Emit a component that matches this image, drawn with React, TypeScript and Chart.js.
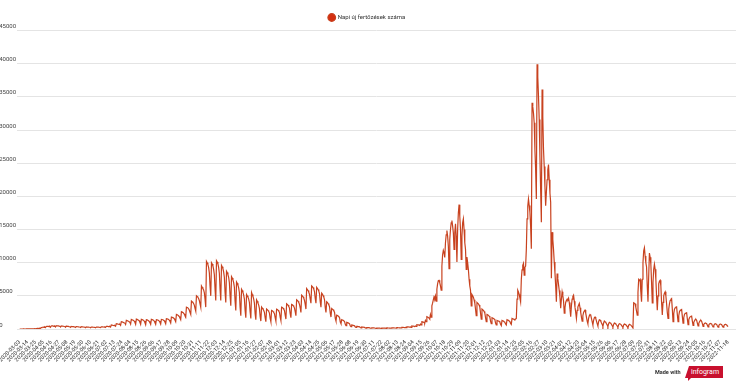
import React, { useEffect, useRef } from "react";
import { Chart, registerables } from "chart.js";

Chart.register(...registerables);

const SERIES_LABEL = "Napi új fertőzések száma";

const TICK_LABELS = [
  "2020-03-03", "2020-03-14", "2020-03-25", "2020-04-05", "2020-04-16", "2020-04-27", "2020-05-08", "2020-05-19",
  "2020-05-30", "2020-06-10", "2020-06-21", "2020-07-02", "2020-07-13", "2020-07-24", "2020-08-04", "2020-08-15",
  "2020-08-26", "2020-09-06", "2020-09-17", "2020-09-28", "2020-10-09", "2020-10-20", "2020-10-31", "2020-11-11",
  "2020-11-22", "2020-12-03", "2020-12-14", "2020-12-25", "2021-01-05", "2021-01-16", "2021-01-27", "2021-02-07",
  "2021-02-18", "2021-03-01", "2021-03-12", "2021-03-23", "2021-04-03", "2021-04-14", "2021-04-25", "2021-05-06",
  "2021-05-17", "2021-05-28", "2021-06-08", "2021-06-19", "2021-06-30", "2021-07-11", "2021-07-22", "2021-08-02",
  "2021-08-13", "2021-08-24", "2021-09-04", "2021-09-15", "2021-09-26", "2021-10-07", "2021-10-18", "2021-10-29",
  "2021-11-09", "2021-11-20", "2021-12-01", "2021-12-12", "2021-12-23", "2022-01-03", "2022-01-14", "2022-01-25",
  "2022-02-05", "2022-02-16", "2022-02-27", "2022-03-10", "2022-03-21", "2022-04-01", "2022-04-12", "2022-04-23",
  "2022-05-04", "2022-05-15", "2022-05-26", "2022-06-06", "2022-06-17", "2022-06-28", "2022-07-09", "2022-07-20",
  "2022-07-31", "2022-08-11", "2022-08-22", "2022-09-02", "2022-09-13", "2022-09-24", "2022-10-05", "2022-10-16",
  "2022-10-27", "2022-11-07", "2022-11-18",
];

const Y_TICKS = [0, 5000, 10000, 15000, 20000, 25000, 30000, 35000, 40000, 45000];

// one value per day, starting 2020-03-03
const DAILY_CASES = [
  0, 0, 2, 2, 3, 5, 4,
  3, 2, 6, 9, 11, 13, 10,
  12, 8, 18, 25, 30, 34, 28,
  35, 25, 60, 70, 80, 90, 75,
  120, 90, 200, 230, 260, 280, 240,
  300, 220, 380, 400, 410, 390, 350,
  380, 260, 450, 470, 460, 440, 400,
  420, 300, 500, 490, 480, 460, 430,
  400, 290, 460, 450, 440, 420, 390,
  380, 270, 430, 420, 410, 390, 360,
  340, 250, 390, 380, 370, 350, 330,
  310, 230, 360, 350, 340, 320, 300,
  290, 220, 340, 330, 320, 300, 280,
  270, 200, 310, 300, 290, 280, 260,
  250, 180, 290, 280, 270, 260, 250,
  240, 180, 290, 290, 280, 270, 260,
  260, 200, 330, 320, 310, 300, 290,
  300, 240, 410, 400, 390, 370, 350,
  380, 300, 600, 580, 560, 530, 500,
  520, 420, 800, 780, 760, 720, 680,
  700, 560, 1100, 1070, 1030, 980, 920,
  900, 700, 1300, 1260, 1220, 1160, 1100,
  1000, 750, 1450, 1400, 1350, 1280, 1200,
  1000, 700, 1500, 1450, 1400, 1330, 1250,
  1000, 700, 1450, 1420, 1380, 1300, 1200,
  950, 650, 1400, 1370, 1330, 1250, 1150,
  950, 700, 1450, 1420, 1380, 1300, 1200,
  950, 700, 1400, 1380, 1350, 1280, 1200,
  1000, 750, 1450, 1430, 1400, 1330, 1250,
  1050, 800, 1550, 1530, 1500, 1430, 1350,
  1150, 900, 1800, 1760, 1720, 1650, 1550,
  1350, 1100, 2200, 2150, 2100, 2000, 1880,
  1650, 1400, 2600, 2550, 2500, 2400, 2250,
  2000, 1800, 3300, 3250, 3200, 3050, 2850,
  2500, 2200, 4200, 4100, 4000, 3850, 3600,
  3100, 2700, 5000, 4900, 4800, 4600, 4300,
  3800, 3300, 6500, 6300, 6100, 5900, 5500,
  4500, 3300, 10200, 10000, 9700, 9300, 8500,
  6500, 5000, 10000, 9800, 9500, 9000, 8200,
  6000, 4300, 10300, 10100, 9800, 9300, 8400,
  6000, 4300, 9600, 9400, 9100, 8600, 7800,
  5500, 4000, 8700, 8500, 8200, 7800, 7000,
  5000, 3500, 7900, 7700, 7400, 7000, 6300,
  4200, 2800, 7100, 6900, 6600, 6200, 5500,
  3300, 2000, 6000, 5800, 5500, 5100, 4500,
  2800, 1700, 5200, 5000, 4800, 4500, 4000,
  2600, 1600, 5500, 5200, 4900, 4500, 3900,
  2300, 1400, 4400, 4200, 3900, 3600, 3100,
  1900, 1200, 3300, 3150, 3000, 2800, 2500,
  1700, 1100, 3000, 2900, 2800, 2650, 2400,
  1600, 1100, 2800, 2750, 2650, 2500, 2300,
  1700, 1200, 3000, 2950, 2850, 2700, 2500,
  1800, 1300, 3300, 3250, 3150, 3000, 2750,
  2100, 1500, 3800, 3700, 3600, 3400, 3150,
  2300, 1700, 3700, 3650, 3550, 3400, 3150,
  2600, 2000, 4400, 4300, 4200, 4000, 3700,
  3200, 2500, 5100, 5000, 4850, 4650, 4300,
  3700, 3000, 6100, 5950, 5800, 5550, 5200,
  4500, 3900, 6500, 6400, 6250, 6000, 5600,
  4600, 3900, 6300, 6150, 5950, 5700, 5300,
  4100, 3300, 5400, 5250, 5050, 4800, 4400,
  3200, 2500, 4100, 4000, 3850, 3650, 3350,
  2400, 1800, 3100, 3000, 2900, 2750, 2500,
  1600, 1200, 2100, 2050, 1950, 1850, 1700,
  1050, 800, 1400, 1350, 1300, 1230, 1130,
  700, 500, 1000, 960, 920, 860, 780,
  450, 350, 600, 580, 560, 520, 480,
  310, 250, 400, 390, 370, 350, 330,
  230, 180, 300, 290, 280, 260, 240,
  170, 140, 220, 215, 205, 195, 180,
  140, 110, 180, 175, 170, 160, 150,
  120, 90, 150, 145, 140, 135, 125,
  115, 90, 150, 145, 140, 135, 125,
  120, 100, 160, 155, 150, 145, 135,
  130, 110, 180, 175, 170, 160, 150,
  150, 120, 200, 195, 190, 180, 170,
  180, 150, 250, 245, 235, 225, 210,
  240, 200, 330, 320, 310, 295, 275,
  320, 250, 450, 440, 425, 400, 370,
  450, 380, 650, 630, 610, 580, 540,
  750, 600, 1100, 1070, 1030, 980, 900,
  1300, 1100, 1850, 1800, 1750, 1650, 1500,
  2200, 1800, 3500, 3900, 4400, 4850, 4600,
  5000, 4200, 6000, 6800, 7300, 7350, 7000,
  6500, 5850, 9500, 11200, 11850, 11500, 10800,
  13000, 14200, 14850, 14000, 12500, 9100, 13500,
  15000, 16000, 16350, 15500, 14500, 12000, 14500,
  15850, 14000, 10100, 15000, 17500, 18750, 17000,
  15000, 10500, 14000, 16000, 16600, 15000, 13000,
  12000, 9000, 10850, 10000, 9000, 7500, 6500,
  5850, 3500, 5200, 5000, 4800, 4400, 3900,
  3000, 2000, 4000, 3900, 3800, 3600, 3300,
  2400, 1500, 3000, 2900, 2800, 2650, 2400,
  1700, 1100, 2200, 2150, 2050, 1950, 1800,
  1200, 800, 1700, 1650, 1600, 1500, 1400,
  900, 600, 1300, 1250, 1200, 1150, 1050,
  700, 500, 1300, 1250, 1200, 1100, 1000,
  750, 600, 1400, 1350, 1300, 1200, 1100,
  850, 700, 1600, 1550, 1500, 1450, 1400,
  1500, 1600, 4500, 5850, 5600, 5200, 4700,
  4100, 7500, 8900, 9600, 9900, 8100, 9300,
  9500, 12000, 16600, 18500, 19600, 18600, 17600,
  15500, 12100, 34100, 33500, 32500, 31100, 27000,
  24000, 19600, 39900, 38000, 35000, 31600, 26000,
  21000, 16100, 36100, 32000, 27100, 24500, 21500,
  18600, 20600, 22500, 24000, 24800, 22500, 20500,
  19100, 7650, 14600, 13500, 12000, 10100, 8500,
  6500, 4100, 8350, 7600, 6700, 5800, 4800,
  3150, 4500, 5600, 5000, 4200, 2400, 3200,
  4000, 4300, 4500, 4400, 4650, 4000, 3000,
  1850, 3500, 4500, 4900, 5100, 4200, 3300,
  2500, 1600, 2800, 3300, 3600, 3850, 3200,
  2500, 1800, 1200, 2000, 2500, 2700, 2850,
  2400, 1800, 1200, 800, 1600, 2000, 2200,
  2100, 1600, 1100, 600, 1300, 1700, 1800,
  1600, 1200, 800, 450, 1100, 1400, 1350,
  1200, 900, 700, 400, 900, 1200, 1100,
  1000, 800, 600, 350, 800, 1000, 950,
  850, 700, 500, 300, 700, 900, 850,
  750, 600, 450, 250, 650, 800, 750,
  700, 550, 400, 250, 600, 750, 700,
  650, 500, 350, 200, 550, 700, 650,
  600, 450, 300, 150, 3950, 3900, 3800,
  3300, 2700, 2100, 5500, 7450, 7300, 7450,
  5600, 4100, 7500, 10000, 11800, 12250, 11000,
  10000, 9350, 6500, 4100, 8000, 11450, 10800,
  9800, 7000, 3950, 7000, 9000, 9750, 9000,
  7500, 5000, 2850, 5000, 6800, 7200, 7350,
  6500, 4000, 2100, 4000, 5000, 5400, 5600,
  5000, 3800, 2500, 1600, 3000, 3800, 4300,
  4500, 4600, 3000, 1100, 2300, 3000, 3200,
  3300, 3350, 2200, 1100, 2000, 2600, 2800,
  2900, 2950, 1900, 900, 1700, 2200, 2350,
  2400, 2450, 1500, 650, 1400, 1700, 1850,
  1900, 1950, 1200, 550, 1000, 1250, 1400,
  1450, 1300, 900, 450, 850, 1100, 1250,
  1300, 1150, 800, 400, 700, 850, 900,
  900, 800, 550, 300, 600, 780, 850,
  850, 750, 500, 300, 550, 720, 800,
  800, 700, 450, 280, 520, 680, 750,
  740, 650, 430, 270, 480, 640, 700,
  690, 600, 420, 500,
];

const FONT = "Roboto, 'Liberation Sans', Arial, sans-serif";

export default function App() {
  const canvasRef = useRef<HTMLCanvasElement | null>(null);

  useEffect(() => {
    const canvas = canvasRef.current;
    if (!canvas) return;
    const chart = new Chart(canvas, {
      type: "line",
      data: {
        datasets: [
          {
            label: SERIES_LABEL,
            data: DAILY_CASES.map((v, i) => ({ x: i, y: v })),
            borderColor: "#c8421f",
            backgroundColor: "#d42f10",
            borderWidth: 1.2,
            pointRadius: 0,
            pointHoverRadius: 0,
            tension: 0,
          },
        ],
      },
      options: {
        animation: false,
        responsive: false,
        maintainAspectRatio: false,
        layout: { padding: { top: 5.5, left: 0, right: 0, bottom: 0 } },
        plugins: {
          legend: {
            position: "top",
            labels: {
              usePointStyle: true,
              pointStyle: "circle",
              boxWidth: 8,
              boxHeight: 5.4,
              padding: 9,
              color: "#333",
              font: { size: 6, family: FONT },
            },
          },
          tooltip: { enabled: false },
        },
        scales: {
          x: {
            type: "linear",
            min: -3.5,
            max: 1001,
            grid: { display: false },
            border: { display: false },
            afterBuildTicks: (s: any) => {
              s.ticks = TICK_LABELS.map((_, i) => ({ value: i * 11 }));
            },
            afterFit: (s: any) => {
              s.height = 56;
            },
            ticks: {
              autoSkip: false,
              minRotation: 45,
              maxRotation: 45,
              padding: 2,
              color: "#333",
              font: { size: 5.5, family: FONT },
              callback: (v: any) => TICK_LABELS[Math.round(Number(v) / 11)] ?? "",
            },
          },
          y: {
            min: 0,
            max: 45000,
            grid: { color: "#e4e4e4", lineWidth: 1, drawTicks: false },
            border: { display: false },
            afterBuildTicks: (s: any) => {
              s.ticks = Y_TICKS.map((v) => ({ value: v }));
            },
            afterFit: (s: any) => {
              s.width = 18;
            },
            ticks: {
              crossAlign: "far",
              padding: 0,
              labelOffset: -4,
              color: "#444",
              font: { size: 6, family: FONT },
              callback: (v: any) => String(v),
            },
          },
        },
      },
    });
    return () => chart.destroy();
  }, []);

  return (
    <div style={{ position: "absolute", left: 0, top: 0, width: 736, height: 385, overflow: "hidden", background: "#fff" }}>
      <canvas
        ref={canvasRef}
        width={738}
        height={385}
        style={{ position: "absolute", left: -2, top: 0, display: "block" }}
      />
      <div
        style={{
          position: "absolute",
          left: 655,
          top: 368,
          fontFamily: FONT,
          fontSize: 5.5,
          fontWeight: 700,
          color: "#333",
          lineHeight: "8px",
        }}
      >
        Made with
      </div>
      <div
        style={{
          position: "absolute",
          left: 685,
          top: 366,
          width: 38,
          height: 12,
          background: "#c8102e",
          clipPath: "polygon(4px 0, 100% 0, 100% 100%, 0 100%)",
          color: "#fff",
          fontFamily: FONT,
          fontSize: 7,
          lineHeight: "12px",
          textAlign: "center",
          paddingLeft: 2,
          boxSizing: "border-box",
        }}
      >
        infogram
      </div>
      <div
        style={{
          position: "absolute",
          left: 688,
          top: 378,
          width: 0,
          height: 0,
          borderLeft: "3px solid #c8102e",
          borderBottom: "3px solid transparent",
        }}
      />
    </div>
  );
}
